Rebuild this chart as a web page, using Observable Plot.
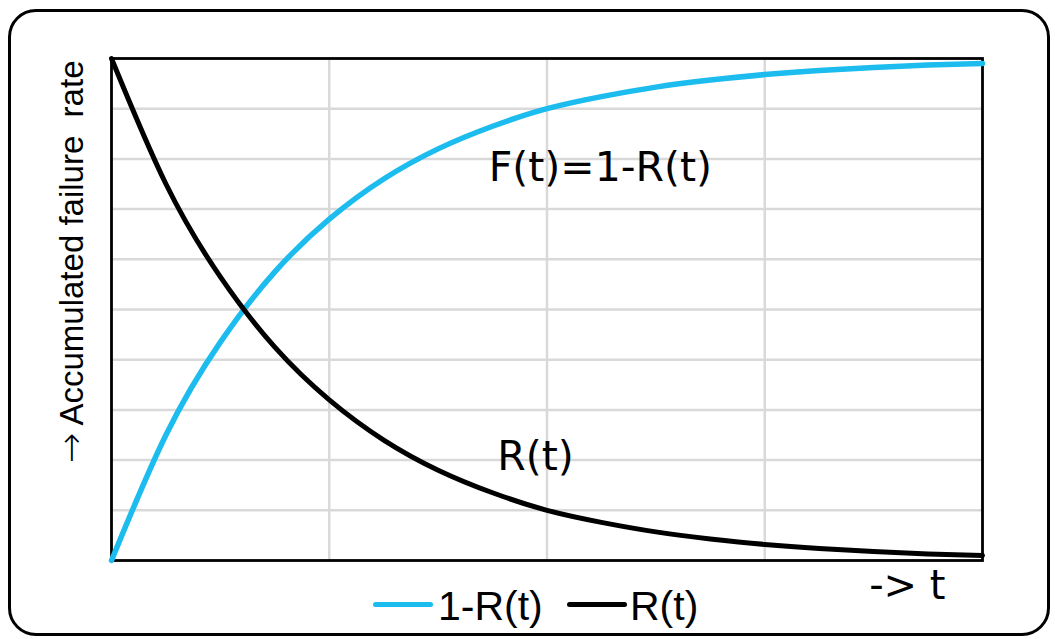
<!DOCTYPE html>
<html>
<head>
<meta charset="utf-8">
<script src="https://cdn.jsdelivr.net/npm/d3@7"></script>
<script src="https://cdn.jsdelivr.net/npm/@observablehq/plot@0.6"></script>
<style>
  html, body { margin: 0; padding: 0; background: #fff; }
  #card {
    position: absolute; left: 8px; top: 9px; width: 1042px; height: 627px;
    box-sizing: border-box; border: 3px solid #000; border-radius: 28px;
  }
  #chart { position: absolute; left: 0; top: 0; }
  #legend { position: absolute; left: 0; top: 0; font-family: "Liberation Sans", Arial, sans-serif; font-size: 41px; line-height: 41px; color: #000; }
  #legend .sw { position: absolute; height: 5px; width: 60px; border-radius: 3px; top: 602px; }
  #legend .lb { position: absolute; top: 586px; white-space: nowrap; }
</style>
</head>
<body>
<div id="card"></div>
<div id="chart"></div>
<div id="legend"></div>
<script>
// Time axis (arbitrary units) and the two curves sampled along it
const t = [0, 0.25, 0.5, 0.75, 1, 1.25, 1.5, 1.75, 2, 2.25, 2.5, 2.75, 3, 3.25, 3.5, 3.75, 4];
const reliability = [1.00, 0.75, 0.565, 0.425, 0.32, 0.24, 0.18, 0.135, 0.10, 0.076, 0.057, 0.043, 0.032, 0.024, 0.018, 0.013, 0.010];
const failure = [0.00, 0.25, 0.435, 0.575, 0.68, 0.76, 0.82, 0.865, 0.90, 0.924, 0.943, 0.957, 0.968, 0.976, 0.982, 0.987, 0.990];

const seriesNames = ["1-R(t)", "R(t)"];
const seriesColors = ["#1cbcee", "#000000"];

// In-chart annotations, placed in data units
const notes = [
  {label: "F(t)=1-R(t)", t: 2.245, v: 0.783},
  {label: "R(t)", t: 1.947, v: 0.207}
];

const yArrow = "\u2192";
const yLabel = yArrow + " Accumulated failure\u00a0 rate";
const xLabel = "-> t";

const xGrid = [1, 2, 3];
const yGrid = [0.1, 0.2, 0.3, 0.4, 0.5, 0.6, 0.7, 0.8, 0.9];

const rows = t.flatMap((tt, i) => [
  {t: tt, v: failure[i], s: seriesNames[0]},
  {t: tt, v: reliability[i], s: seriesNames[1]}
]);

const chart = Plot.plot({
  width: 1055,
  height: 585,
  marginLeft: 111,
  marginRight: 73,
  marginTop: 58,
  marginBottom: 25,
  style: {background: "transparent", overflow: "visible"},
  x: {domain: [0, 4], axis: null},
  y: {domain: [0, 1], axis: null},
  color: {domain: seriesNames, range: seriesColors},
  marks: [
    Plot.ruleX(xGrid, {stroke: "#d9d9d9", strokeWidth: 2.5}),
    Plot.ruleY(yGrid, {stroke: "#d9d9d9", strokeWidth: 2.5}),
    Plot.frame({stroke: "#000", strokeWidth: 2.8}),
    Plot.line(rows.filter(d => d.s === seriesNames[0]), {
      x: "t", y: "v", stroke: "s", strokeWidth: 5.5, curve: "natural"
    }),
    Plot.line(rows.filter(d => d.s === seriesNames[1]), {
      x: "t", y: "v", stroke: "s", strokeWidth: 5, curve: "natural"
    }),
    Plot.text(notes, {
      x: "t", y: "v", text: "label", fill: "#000",
      fontFamily: "DejaVu Sans", fontSize: 41
    }),
    Plot.text([yLabel], {
      frameAnchor: "top-left", rotate: -90, textAnchor: "end",
      dx: -52, dy: 2, fill: "#000",
      fontFamily: "Liberation Sans", fontSize: 33
    }),
    Plot.text([xLabel], {
      frameAnchor: "bottom-right", textAnchor: "end", lineAnchor: "bottom",
      dx: -37, dy: 38, fill: "#000",
      fontFamily: "DejaVu Sans", fontSize: 40
    })
  ]
});
document.getElementById("chart").appendChild(chart);

// Draw the leading arrow of the y label with a font that has a long, thin arrow glyph
d3.select(chart).selectAll("text").each(function () {
  if (this.textContent === yLabel) {
    const sel = d3.select(this);
    sel.text(null);
    sel.append("tspan").attr("font-family", "DejaVu Sans").attr("font-weight", 200).attr("font-size", 36).text(yArrow);
    sel.append("tspan").text(yLabel.slice(yArrow.length));
  }
});

// Legend below the plot area
const legend = document.getElementById("legend");
const swatchLeft = [373, 567];
const labelLeft = [438, 630];
seriesNames.forEach((name, i) => {
  const sw = document.createElement("div");
  sw.className = "sw";
  sw.style.left = swatchLeft[i] + "px";
  sw.style.background = seriesColors[i];
  legend.appendChild(sw);
  const lb = document.createElement("span");
  lb.className = "lb";
  lb.style.left = labelLeft[i] + "px";
  lb.textContent = name;
  legend.appendChild(lb);
});
</script>
</body>
</html>
